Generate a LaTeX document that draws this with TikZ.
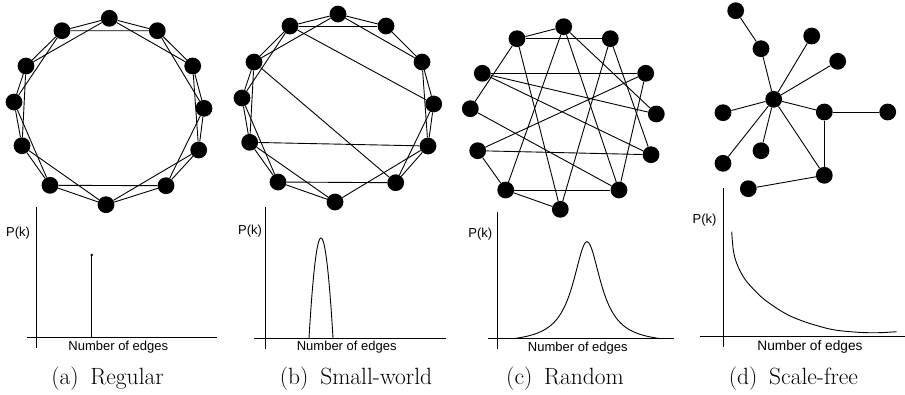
\documentclass[tikz,border=0pt]{standalone}
\usepackage{fontspec}
\newfontfamily\labelfont{Liberation Sans}
\begin{document}
\begin{tikzpicture}[x=1pt,y=-1pt,
  vtx/.style={circle,fill=black,inner sep=0pt,minimum size=16.8pt},
  edge/.style={line width=0.9pt},
  axisline/.style={line width=0.9pt},
  curve/.style={line width=0.9pt},
  lbl/.style={font=\labelfont\fontsize{13}{15}\selectfont,inner sep=0pt,anchor=base},
  subcap/.style={font=\fontsize{23.5}{28}\selectfont,inner sep=0pt,anchor=base}]
\useasboundingbox (0,0) rectangle (905,394);

% ---------- (a) Regular ----------
\foreach \n/\x/\y in {0/109.3/18.3,1/157.3/30.7,2/192.7/66,3/204/108.3,4/198.7/150,5/166/185.7,6/106/204.7,7/50/185.3,8/22/145.7,9/14/102,10/26/66,11/62/30.7}
  \node[vtx] (a\n) at (\x,\y) {};
\foreach \i in {0,...,11}{
  \pgfmathtruncatemacro\j{mod(\i+1,12)}
  \pgfmathtruncatemacro\k{mod(\i+2,12)}
  \draw[edge] (a\i) -- (a\j) (a\i) -- (a\k);
}

% ---------- (b) Small-world ----------
\foreach \n/\x/\y in {0/338/14,1/386/26,2/422/62,3/433.7/104,4/428/146,5/395.7/182.7,6/335/202,7/278/182,8/249.7/142.3,9/242/98,10/254/62,11/290/26}
  \node[vtx] (b\n) at (\x,\y) {};
\foreach \i/\j in {0/1,0/11,0/10,0/2,11/1,11/3,1/2,2/3,2/4,3/4,3/5,4/5,4/6,4/8,5/7,5/10,6/7,6/8,7/8,7/9,8/9,8/10,9/10,9/11,10/11}
  \draw[edge] (b\i) -- (b\j);

% ---------- (c) Random ----------
\foreach \n/\x/\y in {0/563.7/26.7,1/610.3/38.7,2/645.7/73.3,3/656.3/114,4/651/154.7,5/619/190,6/560.3/209.3,7/505.7/190,8/477.7/150.7,9/470.3/108.7,10/482.3/73.3,11/517/38.7}
  \node[vtx] (c\n) at (\x,\y) {};
\foreach \i/\j in {11/0,11/1,11/9,11/6,0/7,0/5,0/3,1/6,1/4,10/2,10/3,10/4,2/8,2/5,9/5,8/4,8/7,7/5,7/6}
  \draw[edge] (c\i) -- (c\j);

% ---------- (d) Scale-free ----------
\foreach \n/\x/\y in {hub/773.7/99.3,A/735.7/10.7,B/761/48.7,C/811.7/36,D/837.7/61.3,E/723/112.7,F/824.3/112,G/887.7/112,H/761/150.7,I/723/163.3,J/824.3/175.3,K/748.3/188.7}
  \node[vtx] (d\n) at (\x,\y) {};
\foreach \i/\j in {A/B,B/hub,C/hub,D/hub,E/hub,F/hub,I/hub,H/hub,J/hub,F/G,F/J,J/K}
  \draw[edge] (d\i) -- (d\j);

% ---------- plots ----------
% (a)
\draw[axisline] (36.7,207) -- (36.7,348.3);
\draw[axisline] (27.3,337.3) -- (217.3,337.3);
\draw[curve] (91.7,337.3) -- (91.7,255);
\fill (91.7,255) circle (1.4pt);
\node[lbl] (pa) at (18,236) {P(k)};
\node[lbl] (na) at (118.3,350.5) {Number of edges};
\node[subcap] (ca) at (107.5,384) {(a)\enspace Regular};

% (b)
\draw[axisline] (265,207.3) -- (265,349.3);
\draw[axisline] (254.3,338) -- (445.7,338);
\draw[curve] plot[domain=309:333,samples=50,smooth] (\x,{338-100*(1-((\x-321)/12)^2)});
\node[lbl] (pb) at (250,234.3) {P(k)};
\node[lbl] (nb) at (346.7,350.7) {Number of edges};
\node[subcap] (cb) at (356,384.5) {(b)\enspace Small-world};

% (c)
\draw[axisline] (497.3,211.7) -- (497.3,349.3);
\draw[axisline] (488.3,338.7) -- (674.3,338.7);
\draw[curve] plot[domain=513:661,samples=120,smooth] (\x,{338.7-97*((1/(1+((\x-587)/17)^2))-0.05)/0.95});
\node[lbl] (pc) at (480.3,237.3) {P(k)};
\node[lbl] (nc) at (577.8,351.5) {Number of edges};
\node[subcap] (cc) at (565,384.5) {(c)\enspace Random};

% (d)
\draw[axisline] (723.3,188.3) -- (723.3,346.7);
\draw[axisline] (700,336.7) -- (905,336.7);
\draw[curve] plot[smooth,tension=0.6] coordinates {(731.7,231.7) (733.3,250) (736.7,263.3) (743.3,276.7) (751.7,287.3) (765,300) (785,313.3) (801.7,320.7) (818.3,326) (835,330) (858.3,332.3) (878.3,332.7) (896.7,331.7)};
\node[lbl] (pd) at (704.5,223.3) {P(k)};
\node[lbl,font=\labelfont\fontsize{13.7}{16}\selectfont] (nd) at (810,350.5) {Number of edges};
\node[subcap] (cd) at (793.4,384) {(d)\enspace Scale-free};
\end{tikzpicture}
\end{document}
